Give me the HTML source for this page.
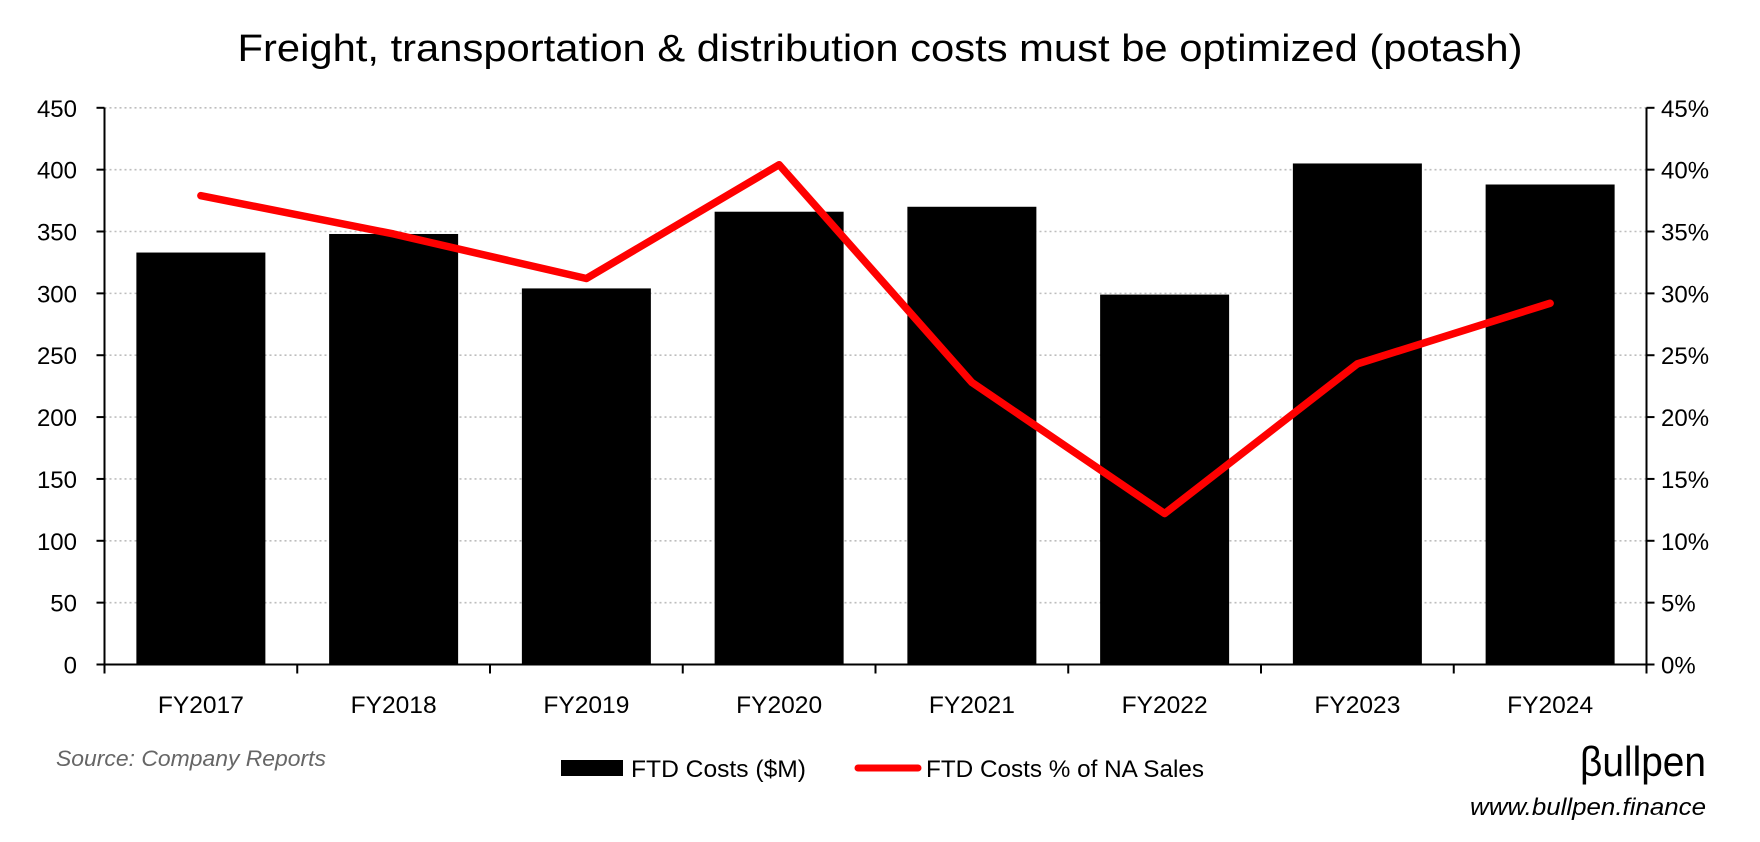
<!DOCTYPE html>
<html><head><meta charset="utf-8"><style>
body{margin:0;background:#fff}
svg{display:block;font-family:"Liberation Sans",sans-serif}
</style></head><body>
<svg id="chart" width="1760" height="842" viewBox="0 0 1760 842">
<text x="880" y="61" text-anchor="middle" font-size="38" textLength="1285" lengthAdjust="spacingAndGlyphs">Freight, transportation &amp; distribution costs must be optimized (potash)</text>
<g id="grid"></g><g id="bars"></g><g id="axes"></g><g id="line"></g><g id="labels"></g>
<g>
<rect x="561" y="760" width="62" height="16" fill="#000"/>
<text x="631" y="777" font-size="24" textLength="175" lengthAdjust="spacingAndGlyphs">FTD Costs ($M)</text>
<line x1="858" y1="768" x2="918" y2="768" stroke="#f00" stroke-width="7" stroke-linecap="round"/>
<text x="926" y="777" font-size="24" textLength="278" lengthAdjust="spacingAndGlyphs">FTD Costs % of NA Sales</text>
</g>
<text x="56" y="766" font-size="22" font-style="italic" fill="#666" textLength="270" lengthAdjust="spacingAndGlyphs">Source: Company Reports</text>
<text x="1706" y="776" text-anchor="end" font-size="42" fill="#000" textLength="126" lengthAdjust="spacingAndGlyphs">βullpen</text>
<text x="1706" y="815" text-anchor="end" font-size="24" font-style="italic" textLength="236" lengthAdjust="spacingAndGlyphs">www.bullpen.finance</text>
</svg>
<script>
const categories=["FY2017","FY2018","FY2019","FY2020","FY2021","FY2022","FY2023","FY2024"];
const costs=[333,348,304,366,370,299,405,388];
const pctSales=[37.9,34.8,31.2,40.4,22.8,12.2,24.3,29.2];
const leftTicks=[0,50,100,150,200,250,300,350,400,450];
const rightTicks=["0%","5%","10%","15%","20%","25%","30%","35%","40%","45%"];
const NS="http://www.w3.org/2000/svg";
const L=104.5,R=1646.5,Y0=664.5,Y1=107.8;
const cw=(R-L)/categories.length;
const yL=v=>Y0-(v/450)*(Y0-Y1);
const yR=p=>Y0-(p/45)*(Y0-Y1);
const xC=i=>L+cw*(i+0.5);
function mk(t,a,p){const e=document.createElementNS(NS,t);for(const k in a)e.setAttribute(k,a[k]);document.getElementById(p).appendChild(e);return e;}
leftTicks.forEach((v,i)=>{
 const y=yL(v);
 if(v>0){const g=mk('line',{x1:L,x2:R,y1:y,y2:y,stroke:'#bdbdbd','stroke-width':1.6,'stroke-dasharray':'2 3'},'grid');
 
 }
 const t1=mk('line',{x1:L-8,x2:L,y1:y,y2:y,stroke:'#000','stroke-width':2},'axes');
 
 
 const t2=mk('line',{x1:R,x2:R+8,y1:y,y2:y,stroke:'#000','stroke-width':2},'axes');
 
 
 const a=mk('text',{x:77,y:y+9,'text-anchor':'end','font-size':24},'labels');a.textContent=v;
 
 
 const b=mk('text',{x:1661,y:y+9,'font-size':24},'labels');b.textContent=rightTicks[i];
 
 
});
costs.forEach((v,i)=>{
 const r=mk('rect',{x:xC(i)-64.5,y:yL(v),width:129,height:Y0-yL(v),fill:'#000'},'bars');
 
 
 const t=mk('text',{x:xC(i),y:713,'text-anchor':'middle','font-size':24,textLength:86,lengthAdjust:'spacingAndGlyphs'},'labels');t.textContent=categories[i];
 
 
});
for(let i=0;i<=categories.length;i++){const x=L+cw*i;
 const t=mk('line',{x1:x,x2:x,y1:Y0,y2:Y0+9,stroke:'#000','stroke-width':2},'axes');
 
 }
const ax=mk('line',{x1:L,x2:L,y1:Y1,y2:Y0,stroke:'#000','stroke-width':2},'axes');


const ar=mk('line',{x1:R,x2:R,y1:Y1,y2:Y0,stroke:'#000','stroke-width':2},'axes');


const xb=mk('line',{x1:L,x2:R,y1:Y0,y2:Y0,stroke:'#000','stroke-width':2},'axes');


const pl=mk('polyline',{points:pctSales.map((p,i)=>xC(i)+','+yR(p)).join(' '),fill:'none',stroke:'#f00','stroke-width':7.5,'stroke-linecap':'round','stroke-linejoin':'round'},'line');


</script>
</body></html>
